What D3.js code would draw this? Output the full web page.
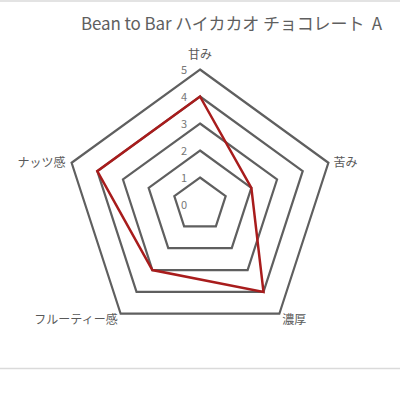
<!DOCTYPE html>
<html>
<head>
<meta charset="utf-8">
<script src="https://cdn.jsdelivr.net/npm/d3@7"></script>
<style>
body { margin: 0; background: #fff; }
text { font-family: "Noto Sans CJK JP", "Noto Sans", sans-serif; }
</style>
</head>
<body>
<svg id="chart" width="400" height="400"></svg>
<script>
var title = "Bean to Bar ハイカカオ チョコレート  A"
var categories = ["甘み", "苦み", "濃厚", "フルーティー感", "ナッツ感"]
var values = [4, 2, 4, 3, 4]
var ticks = [0, 1, 2, 3, 4, 5]

var svg = d3.select("#chart")
var cx = 200
var cy = 204.5
var r = d3.scaleLinear().domain([0, 5]).range([0, 135])
var n = categories.length

function pt(i, v) {
	var a = i * 2 * Math.PI / n
	return [cx + r(v) * Math.sin(a), cy - r(v) * Math.cos(a)]
}

// frame lines
svg.append("line").attr("x1", 0).attr("x2", 400).attr("y1", 1).attr("y2", 1)
	.attr("stroke", "#dadada").attr("stroke-width", 1.5)
svg.append("line").attr("x1", 0).attr("x2", 400).attr("y1", 368.5).attr("y2", 368.5)
	.attr("stroke", "#dadada").attr("stroke-width", 1.5)

svg.append("text").attr("x", 81).attr("y", 30)
	.attr("font-size", 17).attr("fill", "#5f5f5f")
	.style("white-space", "pre")
	.attr("textLength", 301).attr("lengthAdjust", "spacing")
	.text(title)

// grid rings
ticks.filter(function(t) { return t > 0 }).forEach(function(t) {
	var pts = categories.map(function(c, i) { return pt(i, t) })
	svg.append("polygon").attr("points", pts.map(function(p) { return p.join(",") }).join(" "))
		.attr("fill", "none").attr("stroke", "#5f5f5f").attr("stroke-width", 2.2)
})

// tick labels
ticks.forEach(function(t) {
	svg.append("text").attr("x", cx - 13).attr("y", cy - r(t) + 4)
		.attr("text-anchor", "end").attr("font-size", 11).attr("fill", "#777")
		.text(t)
})

// data line
var line = d3.line().curve(d3.curveLinearClosed)
svg.append("path").attr("d", line(values.map(function(v, i) { return pt(i, v) })))
	.attr("fill", "none").attr("stroke", "#a81c1c").attr("stroke-width", 2.5)

// category labels
categories.forEach(function(c, i) {
	var p = pt(i, 5)
	var anchor = "middle", x = p[0], y = p[1]
	if (i == 0) { y = y - 11 }
	else if (i == 1) { anchor = "start"; x = x + 5; y = y + 4 }
	else if (i == 2) { anchor = "start"; x = x + 3; y = y + 10 }
	else if (i == 3) { anchor = "end"; x = x - 3; y = y + 10 }
	else { anchor = "end"; x = x - 6; y = y + 4 }
	svg.append("text").attr("x", x).attr("y", y)
		.attr("text-anchor", anchor).attr("font-size", 12).attr("fill", "#595959")
		.text(c)
})
</script>
</body>
</html>
